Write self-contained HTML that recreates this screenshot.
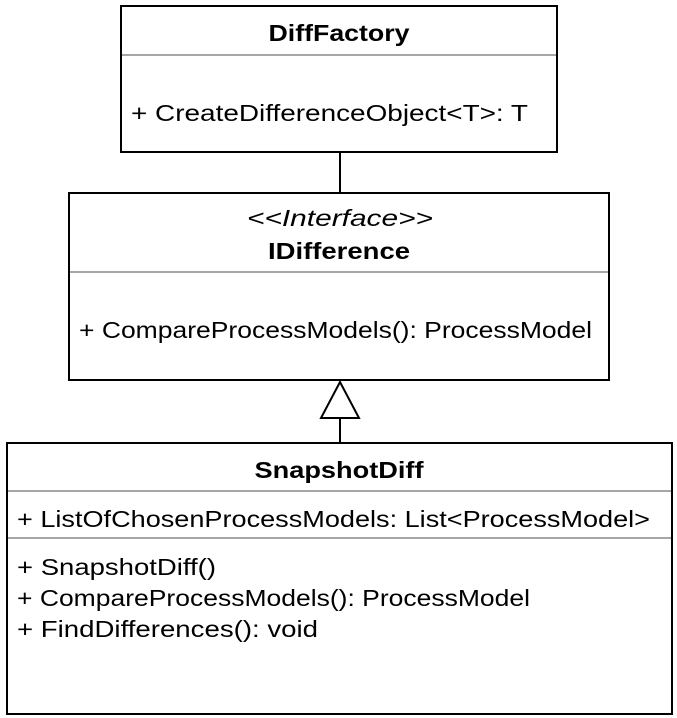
<!DOCTYPE html>
<html><head><meta charset="utf-8"><style>
html,body{margin:0;padding:0;background:#fff;}
svg{display:block;}
text{font-family:"Liberation Sans",sans-serif;font-size:23px;fill:#000;}
.b{font-weight:bold;text-anchor:middle;}
.i{font-style:italic;text-anchor:middle;}
</style></head><body>
<svg width="677" height="718" viewBox="0 0 677 718" xmlns="http://www.w3.org/2000/svg">
<g fill="#fff" stroke="#000" stroke-width="2">
<rect x="121" y="6" width="436" height="146"/>
<rect x="69" y="193" width="540" height="187"/>
<rect x="7" y="443" width="665" height="271"/>
</g>
<g stroke="#888" stroke-width="1.5">
<line x1="122" y1="55" x2="556" y2="55"/>
<line x1="70" y1="272" x2="608" y2="272"/>
<line x1="8" y1="491" x2="671" y2="491"/>
<line x1="8" y1="538" x2="671" y2="538"/>
</g>
<g stroke="#000" stroke-width="2" fill="#fff">
<line x1="340" y1="152" x2="340" y2="193"/>
<line x1="340" y1="418" x2="340" y2="443"/>
<polygon points="340,382 321,418 359,418"/>
</g>
<text class="b" x="339" y="41" textLength="141" lengthAdjust="spacingAndGlyphs">DiffFactory</text>
<text x="131" y="121" textLength="397" lengthAdjust="spacingAndGlyphs">+ CreateDifferenceObject&lt;T&gt;: T</text>
<text class="i" x="340" y="226" textLength="186" lengthAdjust="spacingAndGlyphs">&lt;&lt;Interface&gt;&gt;</text>
<text class="b" x="339" y="259" textLength="142" lengthAdjust="spacingAndGlyphs">IDifference</text>
<text x="79" y="338" textLength="513" lengthAdjust="spacingAndGlyphs">+ CompareProcessModels(): ProcessModel</text>
<text class="b" x="339" y="478" textLength="169" lengthAdjust="spacingAndGlyphs">SnapshotDiff</text>
<text x="17" y="527" textLength="633" lengthAdjust="spacingAndGlyphs">+ ListOfChosenProcessModels: List&lt;ProcessModel&gt;</text>
<text x="17" y="575" textLength="199" lengthAdjust="spacingAndGlyphs">+ SnapshotDiff()</text>
<text x="17" y="606" textLength="513" lengthAdjust="spacingAndGlyphs">+ CompareProcessModels(): ProcessModel</text>
<text x="17" y="637" textLength="301" lengthAdjust="spacingAndGlyphs">+ FindDifferences(): void</text>
</svg>
</body></html>
